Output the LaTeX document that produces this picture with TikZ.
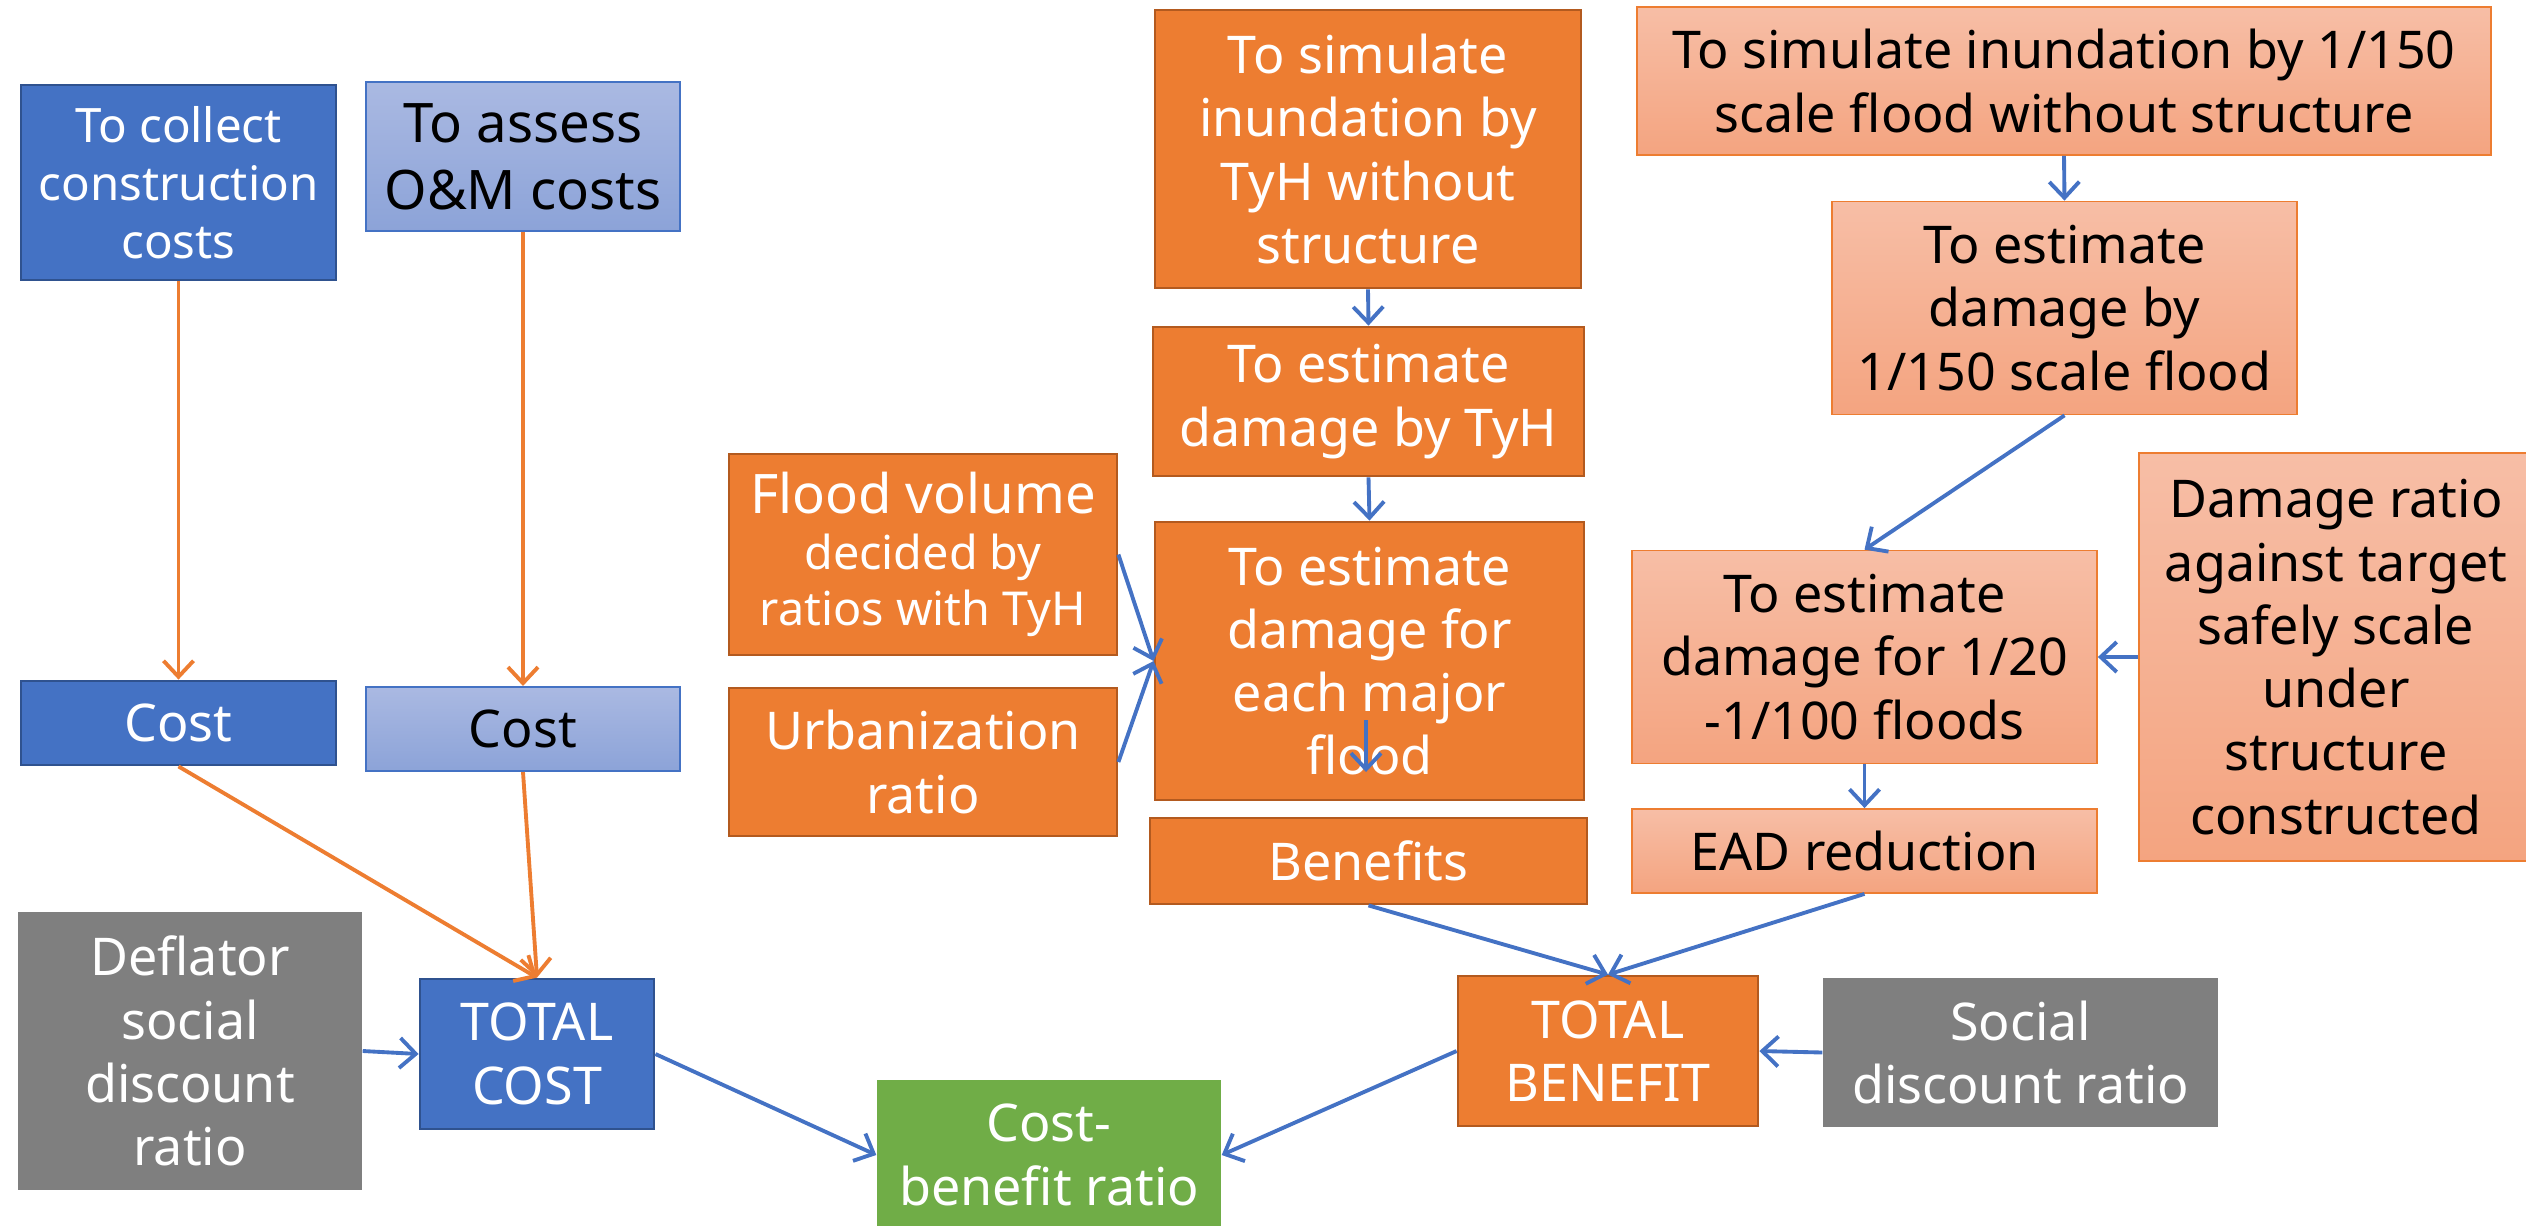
\documentclass[tikz,border=0pt]{standalone}
\usepackage{fontspec}
\setmainfont{Noto Sans}
\usepackage{tikz}
\usepackage{xcolor}
\usetikzlibrary{arrows.meta, positioning}
\definecolor{accblue}{HTML}{4472C4}
\definecolor{blueedge}{HTML}{2F528F}
\definecolor{paletop}{HTML}{AAB9E2}
\definecolor{palebot}{HTML}{8CA3D8}
\definecolor{accorange}{HTML}{ED7D31}
\definecolor{orangeedge}{HTML}{B35A1F}
\definecolor{salmontop}{HTML}{F7BEA6}
\definecolor{salmonbot}{HTML}{F4A480}
\definecolor{accgray}{HTML}{7F7F7F}
\definecolor{accgreen}{HTML}{70AD47}
\tikzset{
    box/.style={rectangle, align=center, inner sep=0pt, font=\fontsize{14.8}{18}\selectfont},
    darkblue/.style={box, draw=blueedge, line width=0.8pt, fill=accblue, text=white},
    paleblue/.style={box, draw=accblue, line width=0.6pt, top color=paletop, bottom color=palebot, text=black},
    orangebox/.style={box, draw=orangeedge, line width=0.8pt, fill=accorange, text=white},
    salmonbox/.style={box, draw=accorange, line width=0.5pt, top color=salmontop, bottom color=salmonbot, text=black},
    graybox/.style={box, fill=accgray, text=white},
    greenbox/.style={box, fill=accgreen, text=white},
    costarrow/.style={draw=accorange, line width=1.1pt, -{Straight Barb[length=1.6mm, width=3mm]}},
    flowarrow/.style={draw=accblue, line width=1.1pt, -{Straight Barb[length=1.6mm, width=3mm]}}
}

\begin{document}
\begin{tikzpicture}[x=0.1mm, y=-0.1mm]
    \useasboundingbox (0, 0) rectangle (2526, 1225);

    \node[darkblue, minimum width=31.5mm, minimum height=19.5mm, font=\fontsize{13.5}{16.5}\selectfont] (collect) at (178.5, 182.5) {To collect\\construction\\costs};
    \node[paleblue, minimum width=31.4mm, minimum height=14.9mm, font=\fontsize{15.5}{19}\selectfont] (assess) at (523, 156.5) {To assess\\O\&M costs};
    \node[darkblue, minimum width=31.5mm, minimum height=8.4mm] (costa) at (178.5, 723) {Cost};
    \node[paleblue, minimum width=31.4mm, minimum height=8.4mm] (costb) at (523, 729) {Cost};
    \node[graybox, minimum width=34.4mm, minimum height=27.8mm] (deflator) at (190, 1051) {Deflator\\social\\discount\\ratio};
    \node[darkblue, minimum width=23.4mm, minimum height=15mm] (totalcost) at (537, 1054) {TOTAL\\COST};
    \node[greenbox, minimum width=34.4mm, minimum height=15mm] (ratio) at (1049, 1155) {Cost-\\benefit ratio};

    \node[orangebox, minimum width=42.6mm, minimum height=27.8mm] (simtyh) at (1368, 149) {To simulate\\inundation by\\TyH without\\structure};
    \node[orangebox, minimum width=43.1mm, minimum height=14.9mm] (esttyh) at (1368.5, 401.5) {To estimate\\damage by TyH};
    \node[orangebox, minimum width=42.9mm, minimum height=27.8mm] (major) at (1369.5, 661) {To estimate\\damage for\\each major\\flood};
    \node[orangebox, minimum width=38.8mm, minimum height=20.1mm, font=\fontsize{13.3}{16}\selectfont] (volume) at (923, 554.5) {{\fontsize{15.5}{19}\selectfont Flood volume}\\decided by\\ratios with TyH};
    \node[orangebox, minimum width=38.8mm, minimum height=14.8mm] (urban) at (923, 762) {Urbanization\\ratio};
    \node[orangebox, minimum width=43.7mm, minimum height=8.6mm] (benefits) at (1368.5, 861) {Benefits};
    \node[orangebox, minimum width=30mm, minimum height=15mm] (totalbenefit) at (1608, 1051) {TOTAL\\BENEFIT};
    \node[graybox, minimum width=39.5mm, minimum height=14.9mm] (social) at (2020.5, 1052.5) {Social\\discount ratio};

    \node[salmonbox, minimum width=85.4mm, minimum height=14.8mm] (simscale) at (2064, 81) {To simulate inundation by 1/150\\scale flood without structure};
    \node[salmonbox, minimum width=46.5mm, minimum height=21.3mm] (estscale) at (2064.5, 308) {To estimate\\damage by\\1/150 scale flood};
    \node[salmonbox, minimum width=46.5mm, minimum height=21.3mm] (estrange) at (1864.5, 657) {To estimate\\damage for 1/20\\-1/100 floods};
    \node[salmonbox, minimum width=46.5mm, minimum height=8.4mm] (ead) at (1864.5, 851) {EAD reduction};
    \node[salmonbox, minimum width=39.4mm, minimum height=40.8mm] (damratio) at (2336, 657) {Damage ratio\\against target\\safely scale\\under\\structure\\constructed};

    \coordinate (floodtail) at (1366, 720);
    \coordinate (floodtip) at (1366, 772);

    \draw[costarrow] (collect.south) -- (costa.north);
    \draw[costarrow] (assess.south) -- (costb.north);
    \draw[costarrow] (costa.south) -- (totalcost.north);
    \draw[costarrow] (costb.south) -- (totalcost.north);

    \draw[flowarrow] (deflator.east) -- (totalcost.west);
    \draw[flowarrow] (totalcost.east) -- (ratio.west);
    \draw[flowarrow] (totalbenefit.west) -- (ratio.east);
    \draw[flowarrow] (social.west) -- (totalbenefit.east);
    \draw[flowarrow] (benefits.south) -- (totalbenefit.north);
    \draw[flowarrow] (ead.south) -- (totalbenefit.north);

    \draw[flowarrow] (simtyh.south) -- (esttyh.north);
    \draw[flowarrow] (esttyh.south) -- (major.north);
    \draw[flowarrow] (volume.east) -- (major.west);
    \draw[flowarrow] (urban.east) -- (major.west);
    \draw[flowarrow] (floodtail) -- (floodtip);

    \draw[flowarrow] (simscale.south) -- (estscale.north);
    \draw[flowarrow] (estscale.south) -- (estrange.north);
    \draw[flowarrow] (damratio.west) -- (estrange.east);
    \draw[flowarrow] (estrange.south) -- (ead.north);
\end{tikzpicture}
\end{document}
